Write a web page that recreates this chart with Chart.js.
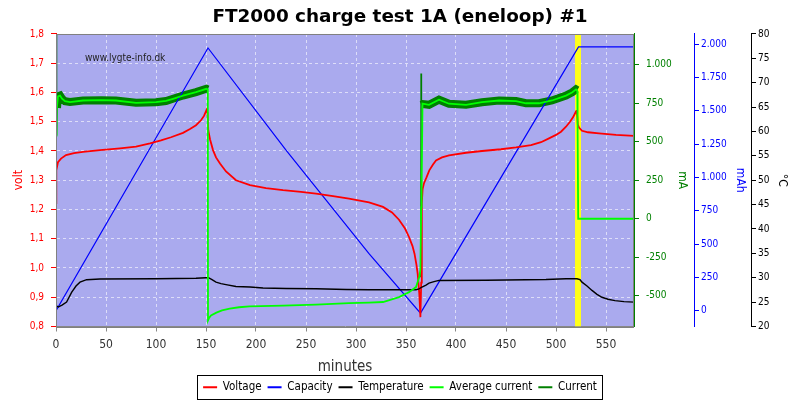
<!DOCTYPE html>
<html lang="en">
<head>
<meta charset="UTF-8">
<title>FT2000 charge test 1A (eneloop) #1</title>
<script src="https://cdn.jsdelivr.net/npm/chart.js"></script>
<style>
  body { margin: 0; background: #fff; }
</style>
</head>
<body>
<canvas id="chart" width="800" height="400"></canvas>
<script>
// minutes -> volt
const voltT = [0, 0.3, 2, 5, 10, 18, 27, 44, 64, 80, 94, 105, 115, 127, 134, 140, 145, 148, 150.5, 151.5, 152.3, 154, 157, 160, 164, 170, 180, 194, 210, 227, 245, 260, 277, 293, 313, 327, 336, 343, 349, 353, 356.5, 358.5, 360.5, 361.7, 363.3, 364.4, 365.2, 365.8, 366.6, 368, 370.5, 373.3, 377, 380, 386, 393, 410, 426, 445, 460, 475, 485, 493, 500, 505, 510, 514, 517, 520, 520.8, 521.8, 523, 526, 532, 543, 560, 578];
const voltV = [1.222, 1.334, 1.362, 1.374, 1.386, 1.393, 1.397, 1.403, 1.409, 1.415, 1.426, 1.436, 1.447, 1.462, 1.475, 1.488, 1.505, 1.52, 1.54, 1.53, 1.47, 1.44, 1.403, 1.378, 1.357, 1.33, 1.30, 1.283, 1.273, 1.266, 1.26, 1.254, 1.246, 1.237, 1.224, 1.209, 1.19, 1.165, 1.135, 1.106, 1.075, 1.049, 1.01, 0.98, 0.912, 0.832, 0.95, 1.22, 1.27, 1.29, 1.31, 1.334, 1.354, 1.368, 1.378, 1.385, 1.394, 1.40, 1.406, 1.412, 1.42, 1.43, 1.443, 1.455, 1.466, 1.483, 1.50, 1.515, 1.535, 1.54, 1.49, 1.48, 1.469, 1.464, 1.46, 1.455, 1.452];

// minutes -> mAh
const capT = [0, 152, 230, 313, 364.5, 522.5, 578];
const capV = [0, 1972, 1205, 428, -18, 1980, 1980];

// minutes -> degrees C
const tempT = [0, 2.3, 6, 10.6, 15.6, 20, 24, 30.6, 44, 100, 140, 150, 152.5, 156, 160, 165, 170, 180, 194, 207, 230, 260, 290, 313, 360, 363, 366, 370, 373, 378, 383, 430, 490, 510, 521, 524, 526, 531, 536, 541, 546, 552, 559, 568, 578];
const tempV = [24.3, 24.0, 24.4, 25.0, 27.0, 28.3, 29.1, 29.6, 29.75, 29.8, 29.9, 30.0, 30.0, 29.6, 29.1, 28.8, 28.6, 28.2, 28.1, 27.9, 27.8, 27.75, 27.6, 27.55, 27.55, 27.7, 28.1, 28.5, 28.9, 29.2, 29.45, 29.5, 29.65, 29.8, 29.8, 29.6, 29.1, 28.3, 27.4, 26.6, 26.0, 25.6, 25.3, 25.1, 25.0];

// minutes -> mA (average)
const avgT = [0, 0.5, 2, 4, 6, 9, 14, 27, 45, 60, 80, 100, 110, 117, 127, 140, 150.4, 151.8, 152, 153, 155, 160.4, 166, 173.7, 183, 193.6, 227, 260, 293, 313, 327, 343, 353, 360, 363.3, 364.4, 365.2, 365.6, 366.5, 373, 383, 393, 410, 426, 443, 460, 470, 483, 496, 510, 516.4, 520, 521.3, 521.6, 522.2, 578];
const avgV = [540, 700, 795, 800, 780, 763, 758, 768, 770, 768, 753, 757, 765, 779, 800, 822, 844, 840, -660, -645, -628, -610, -595, -584, -575, -569, -565, -558, -548, -545, -541, -509, -477, -444, -379, -330, 75, 200, 748, 740, 773, 747, 740, 757, 768, 764, 750, 750, 768, 800, 822, 840, 830, 584, 0, 0];

// minutes -> mA (measured, noisy band while charging)
const curT = [0.5, 0.55, 1, 2, 4, 6, 9, 14, 27, 45, 60, 80, 100, 110, 117, 127, 140, 150.4, 151.8, null, 364.9, 365.1, 365.4, 367, 373, 383, 393, 410, 426, 443, 460, 470, 483, 496, 510, 516.4, 520, 521.3];
const curV = [1300, 540, 720, 795, 800, 780, 763, 758, 768, 770, 768, 753, 757, 765, 779, 800, 822, 844, 840, null, -380, 943, 740, 745, 740, 773, 747, 740, 757, 768, 764, 750, 750, 768, 800, 822, 840, 835];

// end of second charge (yellow marker)
const markT = [522, 522];
const markV = [0.8, 1.8];

// tick labels
const minuteTicks = [0, 50, 100, 150, 200, 250, 300, 350, 400, 450, 500, 550];
const voltTicks = [0.8, 0.9, 1.0, 1.1, 1.2, 1.3, 1.4, 1.5, 1.6, 1.7, 1.8];
const mATicks = [-500, -250, 0, 250, 500, 750, 1000];
const mAhTicks = [0, 250, 500, 750, 1000, 1250, 1500, 1750, 2000];
const tempTicks = [20, 25, 30, 35, 40, 45, 50, 55, 60, 65, 70, 75, 80];

const F = '"DejaVu Sans Condensed", "DejaVu Sans", sans-serif';
const pts = (t, v) => t.map((x, i) => (x === null ? { x: NaN, y: null } : { x: x, y: v[i] }));
const setTicks = list => scale => { scale.ticks = list.map(v => ({ value: v })); };
const dots = v => {
  const s = Math.abs(Math.round(v)).toString().replace(/\B(?=(\d{3})+(?!\d))/g, '.');
  return (v < 0 ? '-' : '') + s;
};

const plotDeco = {
  id: 'plotDeco',
  beforeDraw(chart) {
    const { ctx, chartArea: a } = chart;
    ctx.save();
    ctx.fillStyle = '#aaaaee';
    ctx.fillRect(a.left, a.top, a.right - a.left, a.bottom - a.top);
    ctx.restore();
  },
  beforeDatasetsDraw(chart) {
    const { ctx, chartArea: a } = chart;
    ctx.save();
    ctx.fillStyle = '#222';
    ctx.font = '10px ' + F;
    ctx.textBaseline = 'middle';
    ctx.fillText('www.lygte-info.dk', a.left + 29, a.top + 24);
    ctx.restore();
  },
  afterDraw(chart) {
    const { ctx, chartArea: a } = chart;
    ctx.save();
    ctx.strokeStyle = '#808080';
    ctx.lineWidth = 1;
    ctx.strokeRect(Math.round(a.left) + 0.5, Math.round(a.top) + 0.5, Math.round(a.right - a.left) - 1, Math.round(a.bottom - a.top));
    // box round the legend
    const hb = chart.legend.legendHitBoxes;
    if (hb && hb.length) {
      const l = hb[0].left - 6;
      const r = hb[hb.length - 1].left + hb[hb.length - 1].width + 5;
      const t = hb[0].top - 7;
      const b = hb[0].top + hb[0].height + 5;
      ctx.strokeStyle = '#000';
      ctx.strokeRect(Math.round(l) + 0.5, Math.round(t) + 0.5, Math.round(r - l), Math.round(b - t));
    }
    ctx.restore();
  }
};

new Chart(document.getElementById('chart'), {
  type: 'line',
  data: {
    datasets: [
      { label: 'Voltage', data: pts(voltT, voltV), yAxisID: 'y', borderColor: '#ff0000', backgroundColor: '#ff0000', borderWidth: 1.8, order: 2 },
      { label: 'Capacity', data: pts(capT, capV), yAxisID: 'yC', borderColor: '#0000ff', backgroundColor: '#0000ff', borderWidth: 1.2, order: 3 },
      { label: 'Temperature', data: pts(tempT, tempV), yAxisID: 'yT', borderColor: '#000000', backgroundColor: '#000000', borderWidth: 1.4, order: 1 },
      { label: 'Average current', data: pts(avgT, avgV), yAxisID: 'yA', borderColor: '#00ff00', backgroundColor: '#00ff00', borderWidth: 1.8, order: 0 },
      { label: 'Current', data: pts(curT, curV), yAxisID: 'yA', borderColor: '#008000', backgroundColor: '#008000', borderWidth: 1.5, order: 5,
        segment: {
          borderWidth: c => (c.p1.parsed.x - c.p0.parsed.x >= 1 && c.p0.parsed.y > 300 && c.p1.parsed.y > 300) ? 8 : 1.5
        } },
      { label: '', data: pts(markT, markV), yAxisID: 'y', borderColor: '#ffff1a', backgroundColor: '#ffff1a', borderWidth: 6, order: 9 }
    ]
  },
  options: {
    responsive: false,
    animation: false,
    devicePixelRatio: 1,
    elements: { point: { radius: 0 }, line: { tension: 0, borderCapStyle: 'butt' } },
    layout: { padding: { left: 0, right: 0, top: 0, bottom: -3 } },
    plugins: {
      tooltip: { enabled: false },
      title: {
        display: true,
        text: 'FT2000 charge test 1A (eneloop) #1',
        color: '#000',
        font: { family: '"DejaVu Sans", sans-serif', size: 18.4, weight: 'bold' },
        padding: { top: 6, bottom: 5.9 }
      },
      legend: {
        position: 'bottom',
        labels: {
          color: '#000',
          font: { family: F, size: 11.5 },
          boxWidth: 14,
          boxHeight: 2,
          padding: 6,
          filter: item => item.text !== '',
          sort: (a, b) => a.datasetIndex - b.datasetIndex,
          generateLabels: chart => Chart.defaults.plugins.legend.labels.generateLabels(chart)
            .map(it => Object.assign(it, { fillStyle: it.strokeStyle, lineWidth: 0 }))
        }
      }
    },
    scales: {
      x: {
        type: 'linear', min: 0, max: 578,
        ticks: { color: '#333', font: { family: F, size: 12 }, padding: 6, maxRotation: 0, autoSkip: false },
        afterBuildTicks: setTicks(minuteTicks),
        grid: { color: 'rgba(255,255,255,0.6)', tickColor: '#888', tickLength: 5, tickBorderDash: [] },
        border: { color: '#888', dash: [3, 3] },
        title: { display: true, text: 'minutes', color: '#333', font: { family: F, size: 15, lineHeight: 1 }, padding: { top: 0, bottom: 0.5 } },
        afterFit: s => { s.height = 49; }
      },
      y: {
        position: 'left', min: 0.8, max: 1.8,
        ticks: { color: '#ff0000', font: { family: F, size: 10 }, padding: 7, autoSkip: false, callback: v => v.toFixed(1).replace('.', ',') },
        afterBuildTicks: setTicks(voltTicks),
        grid: { color: 'rgba(255,255,255,0.6)', tickColor: '#ff0000', tickLength: 5, tickBorderDash: [] },
        border: { color: '#ff0000', dash: [3, 3] },
        title: { display: true, text: 'volt', color: '#ff0000', font: { family: F, size: 12 }, padding: { top: 12, bottom: 0 } },
        afterFit: s => { s.width = 56; }
      },
      yA: {
        position: 'right', weight: 1, min: -700, max: 1200,
        ticks: { color: '#008000', font: { family: F, size: 10 }, padding: 7, autoSkip: false, callback: dots },
        afterBuildTicks: setTicks(mATicks),
        grid: { drawOnChartArea: false, color: '#008000', tickLength: 5 },
        border: { color: '#008000' },
        title: { display: true, text: 'mA', color: '#008000', font: { family: F, size: 12 }, padding: { top: 5, bottom: 0 } },
        afterFit: s => { s.width = 60; }
      },
      yC: {
        position: 'right', weight: 2, min: -118, max: 2077,
        ticks: { color: '#0000ff', font: { family: F, size: 10 }, padding: 2, autoSkip: false, callback: dots },
        afterBuildTicks: setTicks(mAhTicks),
        grid: { drawOnChartArea: false, color: '#0000ff', tickLength: 5 },
        border: { color: '#0000ff' },
        title: { display: true, text: 'mAh', color: '#0000ff', font: { family: F, size: 12 }, padding: { top: 4, bottom: 0 } },
        afterFit: s => { s.width = 57; }
      },
      yT: {
        position: 'right', weight: 3, min: 20, max: 80,
        ticks: { color: '#000', font: { family: F, size: 10 }, padding: 2, autoSkip: false },
        afterBuildTicks: setTicks(tempTicks),
        grid: { drawOnChartArea: false, color: '#000', tickLength: 5 },
        border: { color: '#000' },
        title: { display: true, text: '°C', color: '#000', font: { family: F, size: 12 }, padding: { top: 11, bottom: 0 } },
        afterFit: s => { s.width = 49; }
      }
    }
  },
  plugins: [plotDeco]
});
</script>
</body>
</html>
